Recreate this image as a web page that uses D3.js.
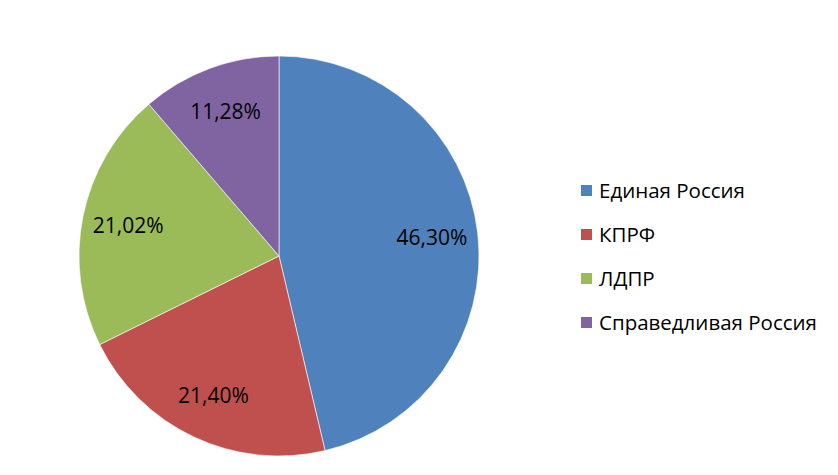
<!DOCTYPE html>
<html>
<head>
<meta charset="utf-8">
<script src="https://cdn.jsdelivr.net/npm/d3@7"></script>
<style>
  body { margin: 0; background: #fff; }
  text { font-family: "Open Sans", "Noto Sans", sans-serif; fill: #000; }
</style>
</head>
<body>
<svg id="chart" width="838" height="475"></svg>
<script>
const parties = ["Единая Россия", "КПРФ", "ЛДПР", "Справедливая Россия"];
const shares = [46.30, 21.40, 21.02, 11.28];
const colors = ["#4F81BD", "#C0504D", "#9BBB59", "#8064A2"];

const data = parties.map((p, i) => ({ name: p, value: shares[i], color: colors[i] }));

const svg = d3.select("#chart");
const cx = 279, cy = 256, radius = 200;

const g = svg.append("g").attr("transform", `translate(${cx},${cy})`);

const pie = d3.pie().sort(null).value(d => d.value);
const arc = d3.arc().innerRadius(0).outerRadius(radius);
const labelArc = d3.arc().innerRadius(radius * 0.77).outerRadius(radius * 0.77);

const arcs = pie(data);

g.selectAll("path")
  .data(arcs)
  .join("path")
  .attr("d", arc)
  .attr("fill", d => d.data.color)
  .attr("stroke", "#fff")
  .attr("stroke-width", 0.6);

const fmt = v => v.toFixed(2).replace(".", ",") + "%";

g.selectAll("text.label")
  .data(arcs)
  .join("text")
  .attr("class", "label")
  .attr("transform", d => `translate(${labelArc.centroid(d)})`)
  .attr("text-anchor", "middle")
  .attr("dy", "0.35em")
  .style("font-size", "21px")
  .text(d => fmt(d.data.value));

const legend = svg.append("g").attr("transform", "translate(581,191)");
const rowH = 44;

const rows = legend.selectAll("g")
  .data(data)
  .join("g")
  .attr("transform", (d, i) => `translate(0,${i * rowH})`);

rows.append("rect")
  .attr("x", 0)
  .attr("y", -6)
  .attr("width", 11)
  .attr("height", 11)
  .attr("fill", d => d.color);

rows.append("text")
  .attr("x", 18)
  .attr("dy", "0.35em")
  .style("font-size", "20.5px")
  .text(d => d.name);
</script>
</body>
</html>
